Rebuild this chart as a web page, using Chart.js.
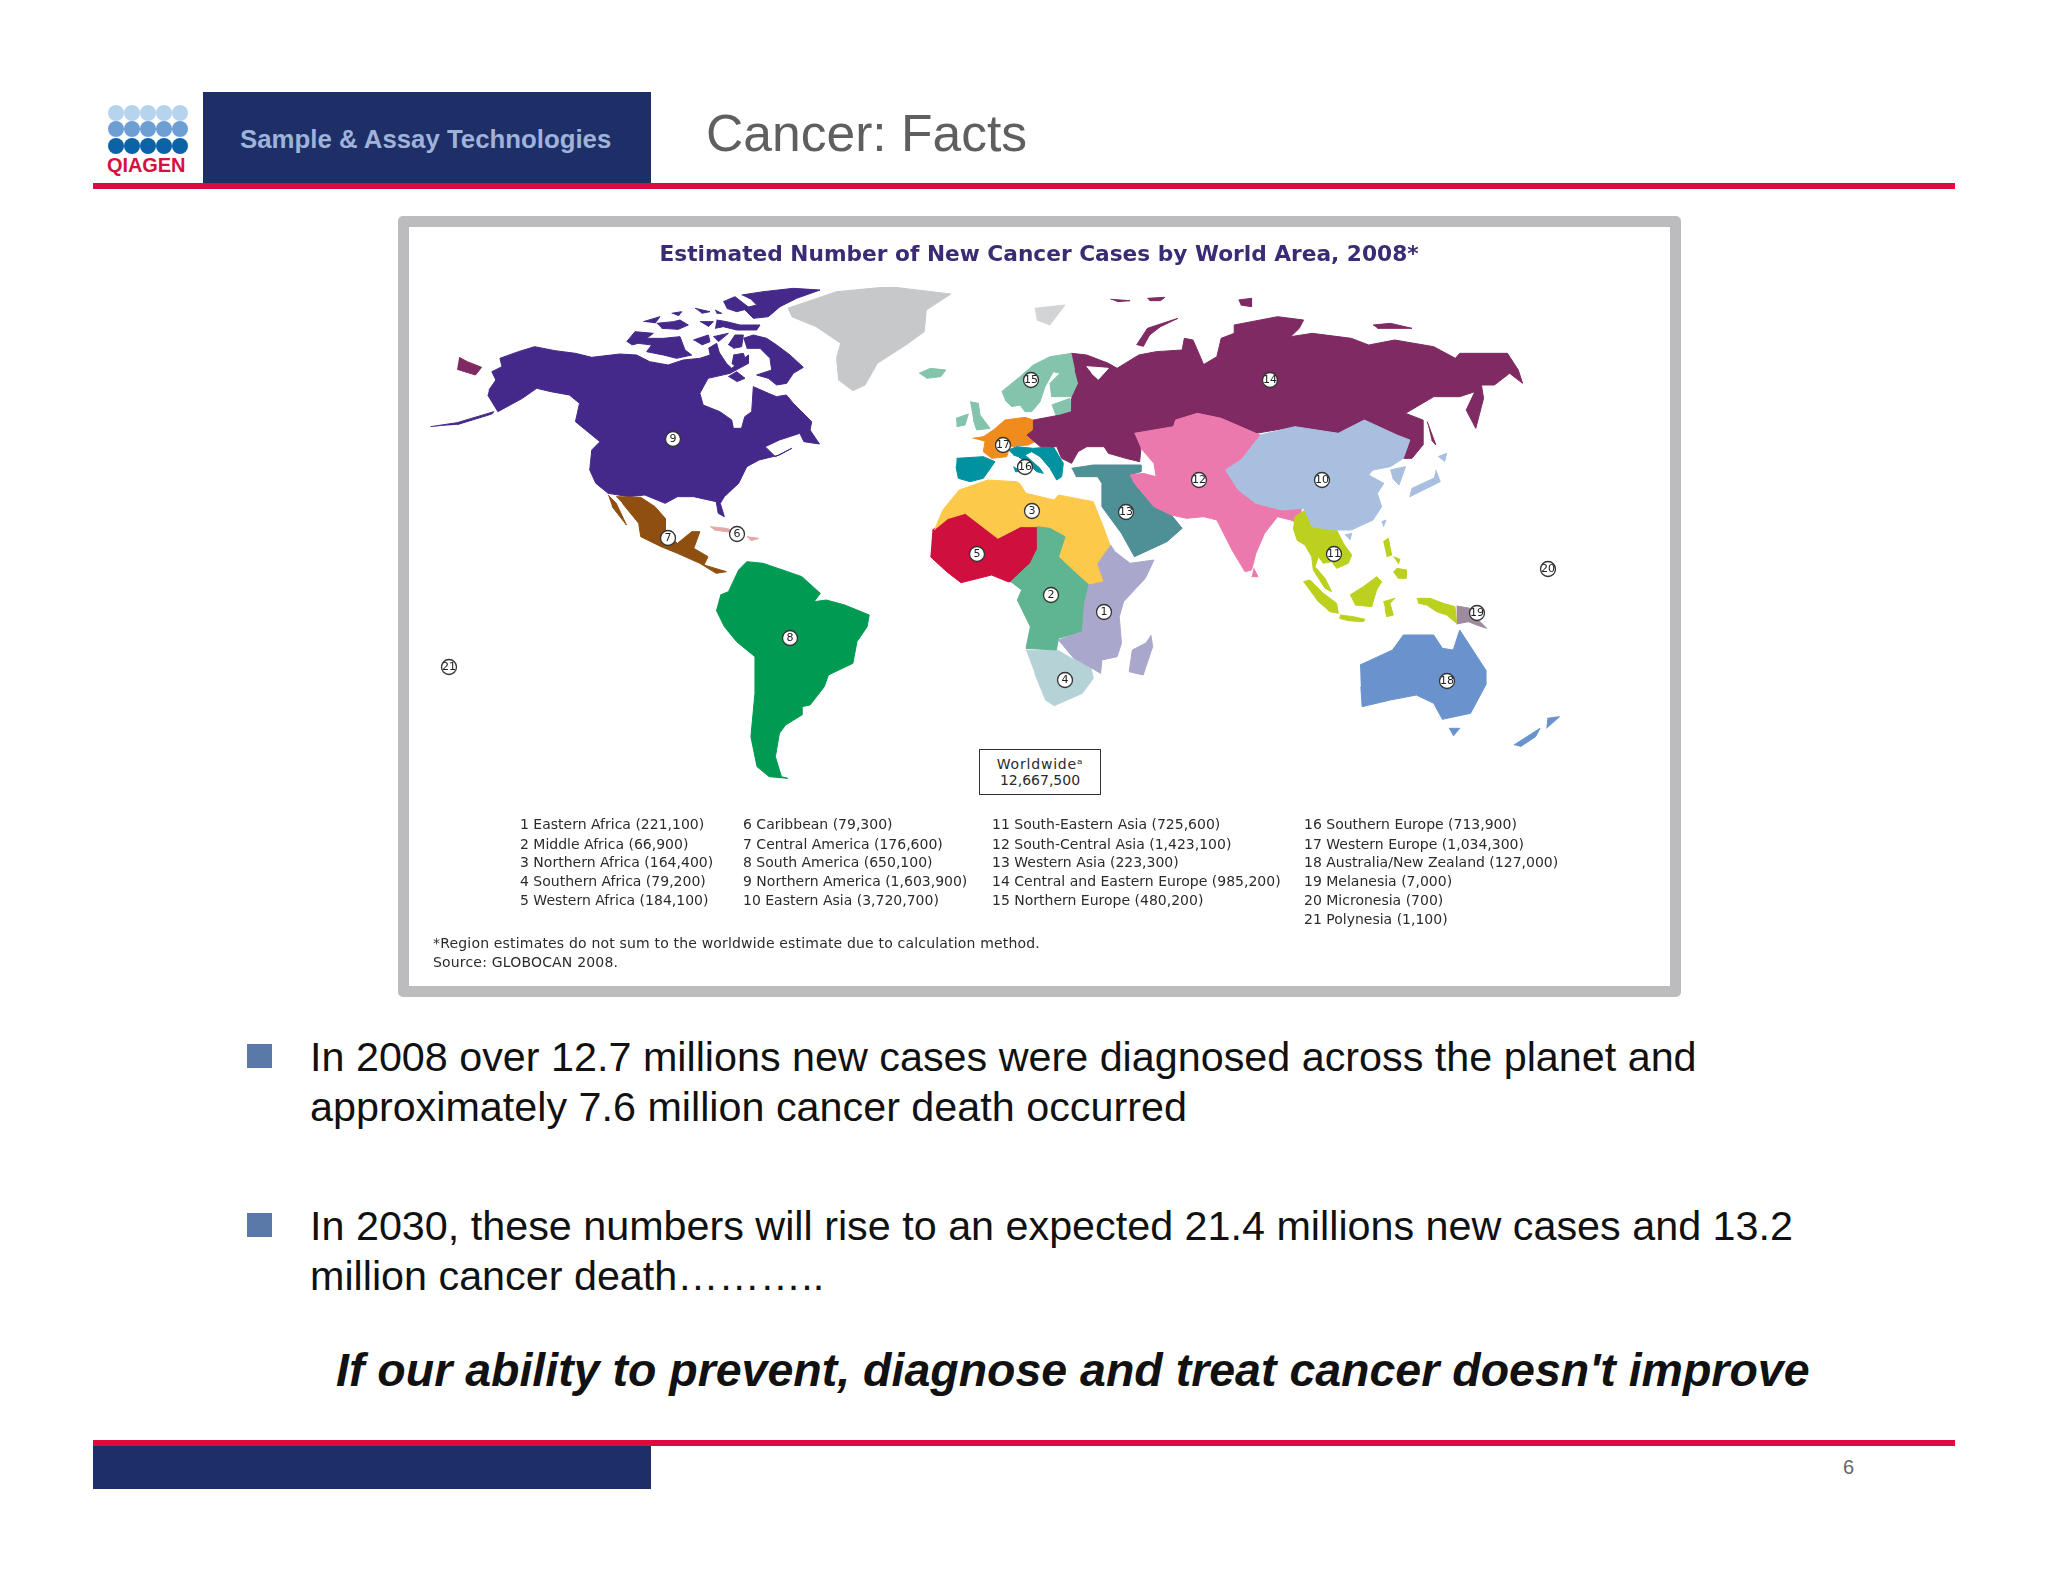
<!DOCTYPE html>
<html>
<head>
<meta charset="utf-8">
<title>Cancer: Facts</title>
<script src="https://cdn.jsdelivr.net/npm/chart.js@4"></script>
<style>
body { margin: 0; background: #fff; width: 2048px; height: 1582px; overflow: hidden; font-family: "Liberation Sans", Arial, sans-serif; }
.box { position: absolute; }
.txt { position: absolute; white-space: nowrap; line-height: 1; }
.key { position: absolute; white-space: nowrap; line-height: 1; font-family: "DejaVu Sans", sans-serif; font-size: 14px; color: #2b2b2b; }
#frame { position: absolute; left: 398px; top: 216px; width: 1261px; height: 759px; border: 11px solid #bcbcbf; border-radius: 5px; background: #fff; }
#map { position: absolute; left: 409px; top: 227px; }
</style>
</head>
<body>
<div class="box" style="left:203px;top:92px;width:448px;height:92px;background:#1e2e66"></div>
<div class="box" style="left:93px;top:183px;width:1862px;height:6px;background:#db0a40"></div>
<div class="txt" style="left:240px;top:127px;font-size:25.8px;font-weight:bold;color:#9fb2da">Sample &amp; Assay Technologies</div>
<div class="txt" style="left:706px;top:108px;font-size:51.6px;color:#5f5f5f">Cancer: Facts</div>
<div class="txt" style="left:107px;top:155px;font-size:20px;font-weight:bold;color:#d8103f;letter-spacing:-0.1px">QIAGEN</div>
<div id="logo"></div>

<div id="frame"></div>
<canvas id="map" width="1260" height="758"></canvas>

<div class="box" style="left:979px;top:749px;width:120px;height:44px;border:1.5px solid #333;background:#fff"></div>
<div class="key" style="left:979px;top:757px;width:122px;text-align:center;letter-spacing:0.8px">Worldwideᵃ</div>
<div class="key" style="left:979px;top:773px;width:122px;text-align:center">12,667,500</div>
<div id="keyList"></div>
<div class="key" style="left:433px;top:936px;letter-spacing:0.18px">*Region estimates do not sum to the worldwide estimate due to calculation method.</div>
<div class="key" style="left:433px;top:955px;letter-spacing:0.18px">Source: GLOBOCAN 2008.</div>

<div class="box" style="left:247px;top:1044px;width:25px;height:24px;background:#5a78a8"></div>
<div class="txt" style="left:310px;top:1037px;font-size:41.3px;color:#111">In 2008 over 12.7 millions new cases were diagnosed across the planet and</div>
<div class="txt" style="left:310px;top:1087px;font-size:41.3px;color:#111">approximately 7.6 million cancer death occurred</div>
<div class="box" style="left:247px;top:1213px;width:25px;height:24px;background:#5a78a8"></div>
<div class="txt" style="left:310px;top:1206px;font-size:41.3px;color:#111">In 2030, these numbers will rise to an expected 21.4 millions new cases and 13.2</div>
<div class="txt" style="left:310px;top:1256px;font-size:41.3px;color:#111">million cancer death………..</div>
<div class="txt" style="left:336px;top:1347px;font-size:46.5px;font-weight:bold;font-style:italic;color:#111">If our ability to prevent, diagnose and treat cancer doesn't improve</div>

<div class="box" style="left:93px;top:1440px;width:1862px;height:6px;background:#db0a40"></div>
<div class="box" style="left:93px;top:1446px;width:558px;height:43px;background:#1e2e66"></div>
<div class="txt" style="left:1843px;top:1457px;font-size:20px;color:#666">6</div>

<script>
const crop = (x0, y0, kx, ky) => pts => pts.map(p => [x0 + p[0] * kx, y0 + p[1] * ky]);
const west = crop(400, 270, 0.408, 1 / 3);
const east = crop(1000, 270, 0.4337, 1 / 3);
const arctic = crop(620, 280, 1 / 3, 1 / 3);
const europe = crop(950, 340, 1 / 3, 1 / 3);
const seAsia = crop(1280, 500, 1 / 3, 1 / 3);

const regionNames = ['Eastern Africa', 'Middle Africa', 'Northern Africa', 'Southern Africa', 'Western Africa',
    'Caribbean', 'Central America', 'South America', 'Northern America', 'Eastern Asia',
    'South-Eastern Asia', 'South-Central Asia', 'Western Asia', 'Central and Eastern Europe', 'Northern Europe',
    'Southern Europe', 'Western Europe', 'Australia/New Zealand', 'Melanesia', 'Micronesia', 'Polynesia'];
const newCases = [221100, 66900, 164400, 79200, 184100,
    79300, 176600, 650100, 1603900, 3720700,
    725600, 1423100, 223300, 985200, 480200,
    713900, 1034300, 127000, 7000, 700, 1100];
const regionColors = ['#a9a7cc', '#5fb491', '#fdc94a', '#b5d3d7', '#cf0f3e',
    '#e3a9a5', '#8f4f10', '#009a52', '#44298b', '#a9bfdf',
    '#bcd01f', '#ec79ad', '#4f8f96', '#7f2a62', '#84c4ac',
    '#00929f', '#f08c1e', '#6a93cd', '#9d8a9d', '#ffffff', '#ffffff'];
const markerSpots = [[1104, 612], [1051, 595], [1032, 511], [1065, 680], [977, 554],
    [737, 534], [668, 538], [790, 638], [673, 439], [1322, 480],
    [1334, 554], [1199, 480], [1126, 512], [1270, 380], [1031, 380],
    [1025, 467], [1003, 445], [1447, 681], [1477, 613], [1548, 569], [449, 667]];

const easternAfrica = [
    east([[255,825],[265,845],[300,880],[355,870],[335,925],[285,995],[275,1040],[280,1120],[270,1160],[235,1170],[232,1210],[212,1195],[170,1165],[135,1110],[190,1085],[195,1000],[205,945],[240,935],[225,880]]),
    east([[348,1095],[352,1130],[330,1215],[298,1205],[305,1140],[335,1120]])
];
const middleAfrica = [
    east([[85,770],[115,775],[150,800],[135,860],[150,880],[205,945],[195,1000],[190,1085],[135,1105],[130,1140],[60,1135],[70,1070],[40,990],[50,960],[25,935],[70,880],[85,840]])
];
const northernAfrica = [
    east([[-151,780],[-132,720],[-94,660],[-28,630],[38,635],[45,640],[60,670],[125,690],[135,675],[215,695],[235,760],[255,830],[225,880],[240,935],[205,945],[150,880],[135,860],[150,800],[115,775],[85,770],[47,770],[-5,805],[-80,730],[-118,745]])
];
const southernAfrica = [
    east([[60,1140],[135,1142],[165,1165],[210,1195],[215,1225],[190,1270],[125,1307],[105,1290],[80,1210]])
];
const westernAfrica = [
    west([[1305,780],[1345,745],[1385,730],[1465,805],[1520,770],[1561,770],[1561,840],[1545,880],[1497,935],[1490,935],[1450,915],[1375,938],[1340,905],[1300,860]])
];
const caribbean = [
    west([[760,770],[800,775],[830,790],[800,785],[770,780]]),
    west([[850,800],[880,805],[860,812]])
];
const centralAmerica = [
    west([[530,680],[590,682],[625,710],[650,745],[650,790],[680,820],[715,785],[735,785],[720,835],[755,860],[745,885],[800,905],[775,910],[735,880],[680,850],[640,830],[590,800],[585,760],[545,700]]),
    west([[510,675],[530,700],[555,765],[520,710]])
];
const southAmerica = [
    west([[785,975],[805,965],[830,900],[850,875],[890,880],[950,905],[985,920],[1030,970],[1015,995],[1045,990],[1090,1005],[1150,1035],[1145,1070],[1120,1115],[1110,1180],[1050,1215],[1040,1250],[1005,1305],[985,1310],[985,1335],[945,1365],[930,1390],[920,1460],[935,1520],[950,1525],[905,1520],[875,1490],[860,1400],[870,1270],[870,1160],[825,1115],[795,1070],[775,1020]])
];
const northernAmerica = [
    west([[218,360],[235,330],[225,305],[250,290],[245,265],[290,245],[330,230],[380,242],[430,250],[470,262],[539,252],[580,255],[612,275],[657,285],[694,270],[735,265],[760,255],[784,250],[800,280],[813,295],[854,255],[854,280],[809,310],[755,325],[735,370],[743,405],[784,425],[813,450],[817,475],[837,475],[845,440],[862,425],[866,350],[903,370],[923,380],[947,375],[964,400],[1009,455],[1005,480],[1028,522],[990,515],[980,490],[930,510],[895,530],[920,560],[960,535],[930,555],[880,570],[850,590],[830,640],[795,680],[785,700],[795,740],[780,730],[775,695],[720,680],[680,680],[650,700],[600,675],[560,680],[510,670],[480,640],[465,600],[470,540],[490,515],[455,480],[430,455],[440,400],[415,375],[370,365],[335,355],[300,385],[240,425],[215,375]]),
    west([[75,470],[140,458],[230,425],[225,432],[140,464]]),
    arctic([[365,45],[430,35],[520,25],[600,30],[530,55],[480,80],[445,110],[400,115],[370,85],[410,75],[395,60]]),
    arctic([[310,65],[345,50],[390,85],[350,95],[320,85]]),
    arctic([[70,125],[120,110],[105,130]]),
    arctic([[110,130],[160,125],[180,120],[205,135],[175,148],[125,145]]),
    arctic([[155,100],[185,95],[175,108]]),
    arctic([[225,85],[270,95],[245,100]]),
    arctic([[240,125],[280,125],[265,140]]),
    arctic([[285,90],[305,100],[290,100]]),
    arctic([[290,120],[320,125],[360,135],[420,135],[410,150],[350,150],[310,140],[285,145]]),
    arctic([[20,185],[45,155],[100,160],[80,175],[130,175],[180,170],[195,210],[215,225],[170,235],[130,225],[80,215],[95,195],[55,190],[35,195]]),
    arctic([[220,180],[265,165],[270,185],[245,195]]),
    arctic([[280,170],[325,160],[295,185]]),
    arctic([[325,195],[345,165],[370,165],[365,200],[340,205]]),
    arctic([[265,205],[290,190],[300,225],[270,230]]),
    arctic([[370,175],[400,165],[440,175],[470,195],[510,225],[550,262],[520,280],[500,310],[470,315],[445,295],[410,285],[455,270],[450,235],[420,205],[380,205]]),
    arctic([[325,290],[350,275],[375,295],[350,305]]),
    arctic([[340,225],[370,220],[380,250],[350,262],[335,250]])
];
const easternAsia = [
    east([[600,495],[680,470],[780,490],[840,450],[915,495],[945,510],[930,565],[900,590],[860,600],[850,615],[885,640],[870,670],[880,710],[860,750],[810,780],[770,780],[720,770],[700,715],[650,720],[590,700],[550,660],[520,600],[555,570]]),
    east([[900,600],[935,590],[920,645],[905,625]]),
    east([[1005,600],[1015,635],[945,680],[950,655],[1000,625]]),
    east([[1010,560],[1030,550],[1025,575]]),
    seAsia([[305,65],[318,60],[310,80]]),
    seAsia([[195,105],[215,100],[210,120]])
];
const southEasternAsia = [
    seAsia([[40,90],[45,50],[75,30],[95,50],[90,75],[130,85],[165,80],[175,100],[190,130],[215,165],[205,190],[170,205],[155,185],[130,190],[115,170],[105,200],[135,235],[155,275],[135,265],[100,210],[95,170],[75,135],[50,120]]),
    seAsia([[70,245],[90,240],[130,280],[170,310],[175,340],[150,335],[110,300]]),
    seAsia([[210,285],[250,260],[290,230],[305,245],[290,270],[275,320],[225,315]]),
    seAsia([[180,345],[220,350],[255,358],[250,365],[205,362],[178,355]]),
    seAsia([[310,305],[345,295],[330,310],[340,345],[320,350],[315,325]]),
    seAsia([[310,125],[325,115],[335,165],[320,170]]),
    seAsia([[350,205],[380,210],[378,235],[355,235],[340,215]]),
    seAsia([[340,170],[360,178],[355,192]]),
    seAsia([[410,295],[450,295],[490,310],[525,320],[530,370],[500,345],[470,335],[440,315],[415,310]])
];
const southCentralAsia = [
    east([[310,490],[400,470],[405,450],[455,430],[510,445],[590,490],[600,495],[555,570],[520,600],[550,660],[590,700],[650,720],[695,715],[690,760],[670,750],[640,740],[610,790],[590,850],[580,900],[565,905],[535,840],[500,750],[470,740],[430,745],[395,735],[355,710],[310,640],[300,615],[330,610],[360,620],[355,580],[325,535]]),
    east([[585,895],[595,920],[580,920]])
];
const westernAsia = [
    east([[165,595],[215,585],[325,585],[325,605],[300,615],[310,640],[355,710],[395,735],[420,775],[385,815],[310,860],[280,790],[235,710],[235,640],[225,620],[175,620]])
];
const centralEasternEurope = [
    east([[165,250],[200,255],[250,280],[270,295],[320,255],[360,245],[420,240],[425,205],[445,210],[470,285],[455,295],[500,260],[510,205],[540,190],[540,165],[640,140],[700,150],[690,175],[670,200],[720,190],[810,205],[850,225],[910,210],[1000,230],[1050,265],[1060,250],[1170,250],[1195,300],[1205,340],[1175,310],[1140,345],[1110,345],[1115,385],[1097,475],[1075,420],[1095,365],[1060,380],[1000,380],[935,430],[975,450],[975,525],[950,565],[930,565],[945,510],[915,495],[840,450],[780,490],[680,470],[590,490],[510,445],[455,430],[405,450],[400,470],[310,490],[325,535],[322,575],[290,565],[250,550],[240,530],[200,530],[180,545],[165,580],[142,565],[131,530],[93,530],[62,495],[77,480],[77,450],[139,435],[165,425],[165,385],[181,340],[173,300]]),
    east([[315,225],[340,175],[410,145],[370,170],[345,195],[330,230]]),
    east([[985,455],[1005,525],[995,510]]),
    east([[550,90],[580,85],[580,110],[555,105]]),
    east([[860,165],[900,160],[950,175],[870,175]]),
    east([[255,88],[300,92],[270,95]]),
    east([[340,85],[380,82],[370,92],[345,92]]),
    west([[145,262],[165,275],[200,292],[185,315],[140,298]])
];
const northernEurope = [
    europe([[155,155],[210,110],[250,75],[300,50],[365,40],[375,90],[390,130],[365,170],[305,170],[300,130],[330,100],[310,95],[285,140],[270,185],[245,215],[225,215],[210,195],[185,200],[165,180]]),
    europe([[305,195],[360,175],[365,225],[320,235]]),
    europe([[60,185],[85,190],[90,225],[120,265],[80,270],[70,240]]),
    europe([[18,235],[55,222],[45,255],[20,260]]),
    west([[1272,310],[1300,295],[1338,300],[1325,320],[1290,325]])
];
const southernEurope = [
    europe([[20,355],[100,350],[135,365],[100,415],[60,425],[25,415],[18,380]]),
    europe([[175,330],[200,320],[250,325],[310,320],[340,370],[335,410],[320,420],[300,385],[270,350],[245,335],[225,345],[270,385],[280,400],[260,395],[240,375],[205,350],[190,345]]),
    europe([[190,380],[215,395],[195,395]])
];
const westernEurope = [
    europe([[68,295],[100,290],[130,270],[165,240],[225,232],[250,240],[250,270],[230,285],[265,300],[235,315],[180,320],[170,350],[125,355],[100,335],[105,305]])
];
const australiaNewZealand = [
    east([[830,1185],[905,1140],[930,1095],[1000,1095],[1020,1135],[1045,1140],[1060,1080],[1085,1130],[1120,1200],[1120,1245],[1085,1330],[1020,1348],[1000,1300],[960,1275],[900,1290],[835,1310],[832,1250]]),
    east([[1035,1375],[1060,1375],[1045,1398]]),
    east([[1185,1425],[1245,1375],[1235,1400],[1200,1430]]),
    east([[1262,1345],[1290,1340],[1260,1375]])
];
const melanesia = [
    seAsia([[530,318],[570,325],[590,355],[620,385],[590,375],[565,365],[530,372]])
];
const regionOutlines = [easternAfrica, middleAfrica, northernAfrica, southernAfrica, westernAfrica,
    caribbean, centralAmerica, southAmerica, northernAmerica, easternAsia,
    southEasternAsia, southCentralAsia, westernAsia, centralEasternEurope, northernEurope,
    southernEurope, westernEurope, australiaNewZealand, melanesia];

// land that is not part of any numbered region
const greenland = west([[950,115],[1070,65],[1200,50],[1350,72],[1290,120],[1285,185],[1240,225],[1170,280],[1140,345],[1110,362],[1075,330],[1070,265],[1080,220],[1020,170],[960,140]]);
const svalbard = east([[80,115],[150,105],[115,165],[85,150]]);
const whiteSea = europe([[410,80],[475,85],[445,118],[425,100]]);

// thin white country lines inside the regions
const countryLines = [
    west([[430,250],[395,365],[440,420]]),
    west([[495,500],[650,500],[700,500],[760,520],[800,575],[860,550],[900,530]]),
    west([[1385,730],[1390,830],[1350,850],[1340,905]]),
    west([[1465,805],[1465,915]]),
    west([[1410,850],[1420,930]]),
    west([[850,880],[885,960],[870,1000],[835,1040],[835,1060],[875,1120]]),
    west([[875,1170],[870,1300],[880,1500]]),
    west([[875,1190],[930,1180],[975,1225],[1005,1260],[975,1300]]),
    west([[900,1090],[955,1120],[965,1160],[935,1165]]),
    west([[945,930],[960,965],[1015,985]]),
    europe([[330,225],[335,260],[405,255],[485,290],[470,320]]),
    europe([[250,270],[330,260],[320,320]]),
    europe([[400,210],[405,255],[370,300],[385,345]]),
    east([[380,540],[450,560],[540,565]]),
    east([[420,640],[500,670],[520,730]]),
    east([[50,960],[110,950],[170,960]]),
    east([[70,1060],[130,1040],[185,1085]]),
    east([[200,1090],[235,1010],[280,1010]]),
    east([[620,545],[720,575],[830,540]])
];

const keyColumns = [[520, 0, 5], [743, 5, 10], [992, 10, 15], [1304, 15, 21]];
const keyRows = [817, 837, 855, 874, 893, 912];

function buildKey() {
    let html = '';
    keyColumns.forEach(col => {
        for (let i = col[1]; i < col[2]; i++) {
            html += `<div class="key" style="left:${col[0]}px;top:${keyRows[i - col[1]]}px">${i + 1} ${regionNames[i]} (${newCases[i].toLocaleString('en-US')})</div>`;
        }
    });
    document.getElementById('keyList').innerHTML = html;
}

function buildLogo() {
    const dotColors = ['#b6d4ee', '#6d9fd5', '#0a62a7'];
    const rowY = [113, 129, 146];
    let html = '';
    rowY.forEach((y, r) => {
        for (let c = 0; c < 5; c++) {
            html += `<div class="box" style="left:${108 + c * 16}px;top:${y - 8}px;width:16px;height:16px;border-radius:50%;background:${dotColors[r]}"></div>`;
        }
    });
    document.getElementById('logo').innerHTML = html;
}

function landDataset(label, points, color) {
    return {
        label: label,
        data: points,
        showLine: true,
        fill: 'shape',
        backgroundColor: color,
        borderColor: color,
        borderWidth: 1,
        pointRadius: 0,
        tension: 0
    };
}

const numberLabels = {
    id: 'numberLabels',
    afterDatasetsDraw(chart) {
        const index = chart.data.datasets.findIndex(d => d.label === 'Region number');
        const ctx = chart.ctx;
        ctx.save();
        ctx.font = '11px "DejaVu Sans"';
        ctx.fillStyle = '#222';
        ctx.textAlign = 'center';
        ctx.textBaseline = 'middle';
        chart.getDatasetMeta(index).data.forEach((pt, i) => {
            ctx.fillText(String(i + 1), pt.x, pt.y + 0.5);
        });
        ctx.restore();
    }
};

function drawMap() {
    const datasets = [];
    datasets.push(landDataset('Greenland', greenland, '#c6c8ca'));
    datasets.push(landDataset('Svalbard', svalbard, '#d3d4d6'));
    regionOutlines.forEach((shapes, i) => {
        shapes.forEach(shape => datasets.push(landDataset(regionNames[i], shape, regionColors[i])));
    });
    countryLines.forEach(line => {
        datasets.push({
            label: 'Border',
            data: line,
            showLine: true,
            fill: false,
            borderColor: 'rgba(255,255,255,0.55)',
            borderWidth: 1,
            pointRadius: 0
        });
    });
    datasets.push(Object.assign(landDataset('White Sea', whiteSea, '#ffffff'), { order: -0.5 }));
    datasets.push({
        label: 'Region number',
        data: markerSpots,
        showLine: false,
        order: -1,
        backgroundColor: '#fff',
        borderColor: '#333',
        borderWidth: 1.3,
        pointRadius: 7.5
    });

    new Chart(document.getElementById('map'), {
        type: 'scatter',
        data: { datasets: datasets },
        plugins: [numberLabels],
        options: {
            responsive: false,
            animation: false,
            layout: { padding: 0, autoPadding: false },
            scales: {
                x: { type: 'linear', display: false, min: 409, max: 1669 },
                y: { type: 'linear', display: false, reverse: true, min: 287, max: 985 }
            },
            plugins: {
                legend: { display: false },
                tooltip: { enabled: false },
                title: {
                    display: true,
                    text: 'Estimated Number of New Cancer Cases by World Area, 2008*',
                    color: '#3b2b74',
                    font: { family: '"DejaVu Sans"', size: 21.7, weight: 'bold', lineHeight: 1 },
                    padding: { top: 18, bottom: 20.3 }
                }
            }
        }
    });
}

buildLogo();
buildKey();
drawMap();
</script>
</body>
</html>
